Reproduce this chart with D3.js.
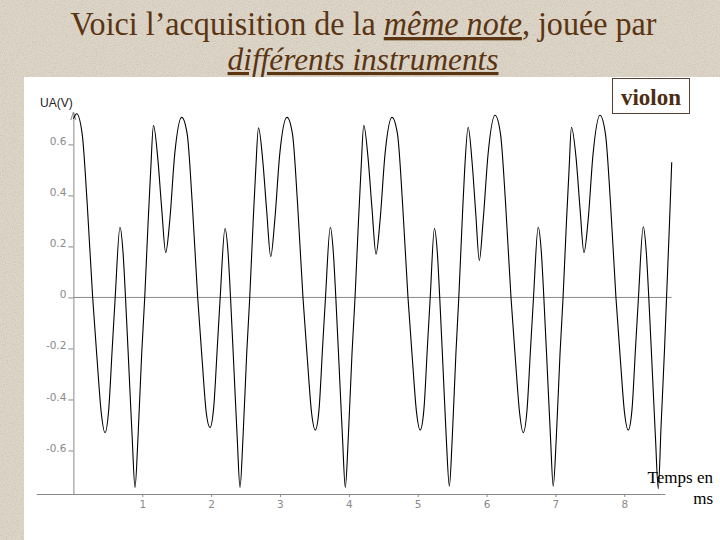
<!DOCTYPE html>
<html>
<head>
<meta charset="utf-8">
<script src="https://cdn.jsdelivr.net/npm/d3@7"></script>
<style>
  html, body { margin: 0; padding: 0; background: #ddd5c6; }
  svg { display: block; }
</style>
</head>
<body>
<svg id="chart" width="720" height="540"></svg>
<script>
// ---- data ----
const timeMs = [
  0.000,
  0.048, 0.128, 0.200, 0.280, 0.346, 0.404, 0.459, 0.513, 0.564, 0.607, 0.677, 0.720, 0.757, 0.810,
  0.854, 0.895, 0.938, 0.992, 1.036, 1.086, 1.123, 1.163, 1.224, 1.282, 1.341, 1.399, 1.471,
  1.573, 1.653, 1.726, 1.805, 1.871, 1.929, 1.984, 2.038, 2.089, 2.132, 2.202, 2.245, 2.282, 2.335,
  2.379, 2.420, 2.463, 2.517, 2.561, 2.611, 2.648, 2.688, 2.749, 2.807, 2.866, 2.924, 2.996,
  3.102, 3.182, 3.255, 3.334, 3.400, 3.458, 3.513, 3.567, 3.618, 3.661, 3.731, 3.774, 3.811, 3.864,
  3.908, 3.949, 3.992, 4.046, 4.090, 4.140, 4.177, 4.217, 4.278, 4.336, 4.395, 4.453, 4.525,
  4.627, 4.707, 4.780, 4.859, 4.925, 4.983, 5.036, 5.090, 5.140, 5.182, 5.243, 5.284, 5.320, 5.372,
  5.415, 5.460, 5.502, 5.555, 5.597, 5.646, 5.682, 5.733, 5.790, 5.843, 5.895, 5.950, 6.025,
  6.123, 6.203, 6.276, 6.355, 6.421, 6.479, 6.532, 6.588, 6.639, 6.682, 6.750, 6.795, 6.832, 6.885,
  6.929, 6.968, 7.013, 7.067, 7.111, 7.161, 7.198, 7.233, 7.299, 7.357, 7.415, 7.474, 7.546,
  7.647, 7.727, 7.800, 7.879, 7.945, 8.003, 8.058, 8.112, 8.163, 8.206, 8.276, 8.319, 8.356, 8.409,
  8.453, 8.494, 8.535, 8.585, 8.614, 8.658, 8.689
];
const voltage = [
  0.70,
  0.720, 0.64, 0.37, 0.00, -0.25, -0.45, -0.530, -0.44, -0.20, 0.00, 0.275, 0.18, 0.00, -0.30,
  -0.55, -0.745, -0.55, -0.22, 0.00, 0.30, 0.50, 0.675, 0.55, 0.35, 0.176, 0.30, 0.56,
  0.706, 0.64, 0.37, 0.00, -0.25, -0.45, -0.510, -0.43, -0.20, 0.00, 0.270, 0.18, 0.00, -0.30,
  -0.55, -0.745, -0.55, -0.22, 0.00, 0.30, 0.50, 0.665, 0.54, 0.34, 0.160, 0.30, 0.56,
  0.706, 0.64, 0.37, 0.00, -0.25, -0.45, -0.520, -0.44, -0.20, 0.00, 0.275, 0.18, 0.00, -0.30,
  -0.55, -0.745, -0.55, -0.22, 0.00, 0.30, 0.50, 0.675, 0.55, 0.35, 0.170, 0.30, 0.56,
  0.706, 0.64, 0.37, 0.00, -0.25, -0.45, -0.520, -0.44, -0.20, 0.00, 0.270, 0.18, 0.00, -0.30,
  -0.55, -0.740, -0.55, -0.22, 0.00, 0.30, 0.50, 0.667, 0.53, 0.33, 0.145, 0.30, 0.57,
  0.714, 0.64, 0.37, 0.00, -0.25, -0.45, -0.530, -0.44, -0.20, 0.00, 0.275, 0.18, 0.00, -0.30,
  -0.55, -0.740, -0.55, -0.22, 0.00, 0.30, 0.50, 0.667, 0.55, 0.35, 0.176, 0.30, 0.56,
  0.714, 0.64, 0.37, 0.00, -0.25, -0.45, -0.520, -0.44, -0.20, 0.00, 0.277, 0.18, 0.00, -0.30,
  -0.55, -0.750, -0.50, -0.20, 0.00, 0.30, 0.53
];
const yTicks = [0.6, 0.4, 0.2, 0, -0.2, -0.4, -0.6];
const xTicks = [1, 2, 3, 4, 5, 6, 7, 8];
const titleLine1 = ["Voici l’acquisition de la ", "même note", ", jouée par"];
const titleLine2 = "différents instruments";
const yLabel = "UA(V)";
const xLabel = ["Temps en", "ms"];
const instrument = "violon";

// ---- drawing ----
const svg = d3.select("#chart");
const brown = "#5b3412";
const axisGray = "#8a8a8a";

// textured beige background
const defs = svg.append("defs");
const f = defs.append("filter").attr("id", "grain").attr("x", 0).attr("y", 0).attr("width", "100%").attr("height", "100%");
f.append("feTurbulence").attr("type", "fractalNoise").attr("baseFrequency", 0.9).attr("numOctaves", 2).attr("seed", 3).attr("result", "n");
f.append("feColorMatrix").attr("in", "n").attr("type", "matrix")
  .attr("values", "0 0 0 0 0.45  0 0 0 0 0.40  0 0 0 0 0.33  0 0 0 -1.1 0.62").attr("result", "speck");
f.append("feComposite").attr("in", "speck").attr("in2", "SourceGraphic").attr("operator", "in").attr("result", "s2");
f.append("feMerge").call(m => { m.append("feMergeNode").attr("in", "SourceGraphic"); m.append("feMergeNode").attr("in", "s2"); });
svg.append("rect").attr("width", 720).attr("height", 540).attr("fill", "#ddd6c8").attr("filter", "url(#grain)");

// white panel
svg.append("rect").attr("x", 24).attr("y", 77).attr("width", 696).attr("height", 463).attr("fill", "#ffffff");

// title (slightly condensed serif, like the slide)
const t1 = svg.append("text")
  .attr("transform", "translate(363.5,35) scale(0.973,1)")
  .attr("text-anchor", "middle")
  .attr("font-family", "'Liberation Serif', 'Times New Roman', serif")
  .attr("font-size", 33).attr("fill", brown);
t1.append("tspan").text(titleLine1[0]);
t1.append("tspan").attr("font-style", "italic").style("text-decoration", "underline").text(titleLine1[1]);
t1.append("tspan").text(titleLine1[2]);

svg.append("text")
  .attr("transform", "translate(363,70) scale(1.01,1)")
  .attr("text-anchor", "middle")
  .attr("font-family", "'Liberation Serif', 'Times New Roman', serif")
  .attr("font-size", 31).attr("font-style", "italic").attr("fill", brown)
  .style("text-decoration", "underline")
  .text(titleLine2);

// scales
const x = d3.scaleLinear().domain([-0.54, 8.59]).range([36.2, 664.9]);
const y = d3.scaleLinear().domain([-0.7706, 0.727]).range([494, 112]);

// y axis
const yAxis = svg.append("g").attr("transform", `translate(${x(0)},0)`)
  .call(d3.axisLeft(y).tickValues(yTicks).tickSize(5).tickSizeOuter(0).tickPadding(2)
    .tickFormat(d => d === 0 ? "0" : d.toFixed(1)));
yAxis.selectAll("path, line").attr("stroke", axisGray);
yAxis.selectAll("text").attr("fill", axisGray).attr("dy", "0.05em")
  .attr("font-family", "'DejaVu Sans', 'Liberation Sans', sans-serif").attr("font-size", 10.5);

// x axis
const xAxis = svg.append("g").attr("transform", `translate(0,${y.range()[0]})`)
  .call(d3.axisBottom(x).tickValues(xTicks).tickSize(3).tickSizeOuter(0).tickPadding(4));
xAxis.selectAll("path, line").attr("stroke", axisGray);
xAxis.selectAll("text").attr("fill", axisGray)
  .attr("font-family", "'DejaVu Sans', 'Liberation Sans', sans-serif").attr("font-size", 10.5);

// zero line
svg.append("line")
  .attr("x1", x(0)).attr("x2", x(timeMs[timeMs.length - 1]))
  .attr("y1", y(0)).attr("y2", y(0))
  .attr("stroke", axisGray).attr("stroke-width", 1);

// small arrow at top of y axis
svg.append("path")
  .attr("d", `M${x(0) - 2.5},${y.range()[1] + 8} L${x(0)},${y.range()[1]} L${x(0) + 2.5},${y.range()[1] + 8}`)
  .attr("fill", "none").attr("stroke", axisGray);

// y label
svg.append("text").attr("x", 40).attr("y", 107)
  .attr("font-family", "'Liberation Sans', Arial, sans-serif").attr("font-size", 12)
  .attr("fill", "#222").text(yLabel);

// curve
const pts = timeMs.map((t, i) => [t, voltage[i]]);
svg.append("path")
  .datum(pts)
  .attr("d", d3.line().x(d => x(d[0])).y(d => y(d[1])).curve(d3.curveMonotoneX))
  .attr("fill", "none").attr("stroke", "#000").attr("stroke-width", 1.1);

// instrument box
svg.append("rect").attr("x", 612.5).attr("y", 78.5).attr("width", 77).attr("height", 35)
  .attr("fill", "#fff").attr("stroke", "#5a4030").attr("stroke-width", 1);
svg.append("text").attr("x", 651).attr("y", 105).attr("text-anchor", "middle")
  .attr("font-family", "'Liberation Serif', 'Times New Roman', serif").attr("font-weight", "bold")
  .attr("font-size", 23).attr("fill", "#4d2d12").text(instrument);

// x label
svg.append("text").attr("x", 713).attr("y", 483).attr("text-anchor", "end")
  .attr("font-family", "'Liberation Serif', 'Times New Roman', serif")
  .attr("font-size", 17).attr("fill", "#000").text(xLabel[0]);
svg.append("text").attr("x", 713).attr("y", 504).attr("text-anchor", "end")
  .attr("font-family", "'Liberation Serif', 'Times New Roman', serif")
  .attr("font-size", 17).attr("fill", "#000").text(xLabel[1]);
</script>
</body>
</html>
